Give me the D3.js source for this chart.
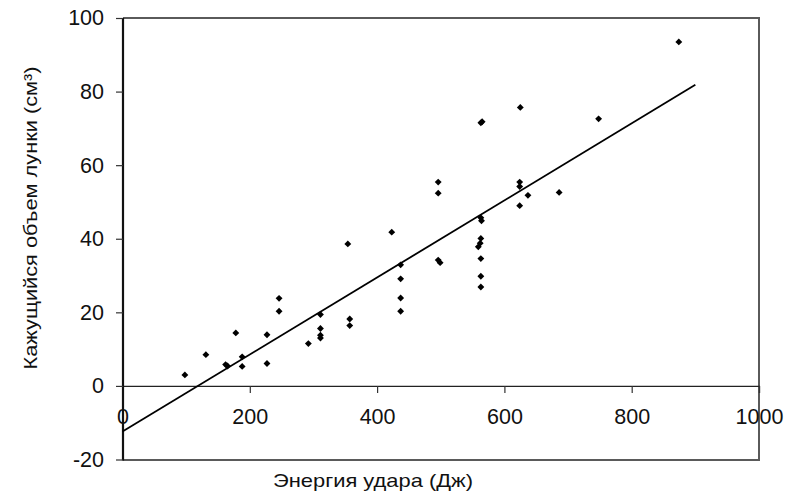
<!DOCTYPE html>
<html>
<head>
<meta charset="utf-8">
<script src="https://cdn.jsdelivr.net/npm/d3@7"></script>
<style>
  html, body { margin: 0; padding: 0; background: #fff; }
  svg { display: block; font-family: "Liberation Sans", Arial, sans-serif; }
</style>
</head>
<body>
<svg id="chart" width="803" height="495"></svg>
<script>
// Impact energy (J) and apparent crater volume (cm³) of each test
const energy = [98, 131, 162, 165, 178, 188, 188, 227, 227, 246, 246, 292,
  311, 311, 311, 311, 357, 357, 354, 423, 437, 437, 437, 437,
  496, 496, 496, 499, 563, 565, 563, 564, 563, 562, 559, 563, 563, 563,
  625, 624, 624, 637, 624, 686, 748, 874];
const volume = [3.0, 8.5, 5.8, 5.4, 14.4, 7.9, 5.3, 13.9, 6.1, 23.8, 20.3, 11.5,
  19.4, 15.6, 13.8, 13.0, 18.2, 16.4, 38.6, 41.8, 32.9, 29.1, 23.9, 20.3,
  55.4, 52.4, 34.2, 33.5, 71.5, 71.8, 45.7, 44.9, 40.1, 38.8, 37.8, 34.6, 29.8, 26.9,
  75.7, 55.4, 54.2, 51.8, 49.0, 52.6, 72.6, 93.5];

// Linear trend line: volume = trendIntercept + trendSlope * energy, over trendRange
const trendIntercept = -12.4;
const trendSlope = 0.1047;
const trendRange = [0, 900];

const xTicks = [0, 200, 400, 600, 800, 1000];
const yTicks = [-20, 0, 20, 40, 60, 80, 100];

const xTitle = "Энергия удара (Дж)";
const yTitle = "Кажущийся объем лунки (см³)";

const svg = d3.select("#chart");
const plotLeft = 123, plotRight = 759, plotTop = 18, plotBottom = 459.5;
const fontFamily = "Liberation Sans, Arial, sans-serif";
const plainNumber = d => String(d); // hyphen-minus for negatives

const x = d3.scaleLinear().domain([0, 1000]).range([plotLeft - 0.5, plotRight]);
const y = d3.scaleLinear().domain([-20, 100]).range([plotBottom, plotTop]);

// Frame (top, right, bottom)
svg.append("path")
  .attr("d", `M${plotLeft},${plotTop}H${plotRight}V${plotBottom + 0.5}H${plotLeft}`)
  .attr("fill", "none").attr("stroke", "#5a5a5a").attr("stroke-width", 2);

// Zero line with x axis ticks and labels
const xAxis = d3.axisBottom(x).tickValues(xTicks).tickSize(7).tickPadding(16)
  .tickFormat(plainNumber);
const gx = svg.append("g").attr("transform", `translate(0,${y(0)})`).call(xAxis);
gx.select(".domain").attr("stroke", "#222").attr("stroke-width", 1.2);
gx.selectAll(".tick line").attr("stroke", "#333").attr("stroke-width", 1.2);
gx.selectAll(".tick text").attr("font-size", 21.5).attr("fill", "#111")
  .attr("font-family", fontFamily);

// Y axis
const yAxis = d3.axisLeft(y).tickValues(yTicks).tickSize(7).tickPadding(12)
  .tickFormat(plainNumber);
const gy = svg.append("g").attr("transform", `translate(${plotLeft},0)`).call(yAxis);
gy.select(".domain").attr("stroke", "#111").attr("stroke-width", 2.2)
  .attr("d", `M0,${plotTop}V${plotBottom + 1}`);
gy.selectAll(".tick line").attr("stroke", "#333").attr("stroke-width", 1.2);
gy.selectAll(".tick text").attr("font-size", 21.5).attr("fill", "#111")
  .attr("font-family", fontFamily);

// Trend line
const trend = trendRange.map(e => [e, trendIntercept + trendSlope * e]);
svg.append("path")
  .attr("d", d3.line().x(d => x(d[0])).y(d => y(d[1]))(trend))
  .attr("fill", "none").attr("stroke", "#000").attr("stroke-width", 1.8);

// Data points
const symbol = d3.symbol().type(d3.symbolDiamond2).size(30);
svg.append("g").selectAll("path")
  .data(energy.map((e, i) => [e, volume[i]]))
  .join("path")
  .attr("transform", d => `translate(${x(d[0])},${y(d[1])})`)
  .attr("d", symbol)
  .attr("fill", "#000");

// Axis titles
svg.append("text")
  .attr("x", 373).attr("y", 487)
  .attr("text-anchor", "middle").attr("font-size", 19).attr("fill", "#111")
  .attr("textLength", 200).attr("lengthAdjust", "spacingAndGlyphs")
  .text(xTitle);

svg.append("text")
  .attr("transform", `translate(37,218) rotate(-90)`)
  .attr("text-anchor", "middle").attr("font-size", 19).attr("fill", "#111")
  .attr("textLength", 303).attr("lengthAdjust", "spacingAndGlyphs")
  .text(yTitle);
</script>
</body>
</html>
